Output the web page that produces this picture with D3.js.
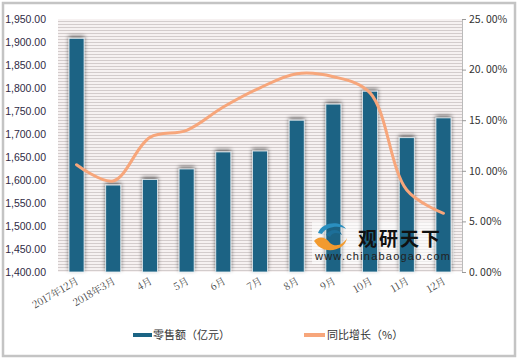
<!DOCTYPE html>
<html><head><meta charset="utf-8">
<script src="https://cdn.jsdelivr.net/npm/d3@7"></script>
<style>html,body{margin:0;padding:0;background:#fff;}svg{display:block;}</style>
</head><body>
<svg id="c" width="520" height="360"></svg>
<script>
const categories = ["2017年12月","2018年3月","4月","5月","6月","7月","8月","9月","10月","11月","12月"];
const sales = [1908, 1589, 1601, 1624, 1661, 1663, 1730, 1765, 1793, 1692, 1735];
const growth = [10.6, 9.0, 13.3, 14.0, 16.3, 18.2, 19.6, 19.3, 17.7, 8.1, 5.8];
const leftTicks = [1400,1450,1500,1550,1600,1650,1700,1750,1800,1850,1900,1950];
const rightTicks = [0,5,10,15,20,25];
const rightTickLabels = ["0. 00%","5. 00%","10. 00%","15. 00%","20. 00%","25. 00%"];
const legendLabels = ["零售额（亿元）","同比增长（%）"];

const svg = d3.select("#c");
const L = 58, R = 462, T = 19, B = 272;

const defs = svg.append("defs");
const pat = defs.append("pattern").attr("id","stripes").attr("patternUnits","userSpaceOnUse")
  .attr("width",6).attr("height",3);
pat.append("rect").attr("width",6).attr("height",3).attr("fill","#f6f1f1");
pat.append("rect").attr("y",0).attr("width",6).attr("height",1).attr("fill","#d3cccc");

const f = defs.append("filter").attr("id","shadow").attr("x","-50%").attr("y","-20%").attr("width","200%").attr("height","140%");
f.append("feGaussianBlur").attr("in","SourceAlpha").attr("stdDeviation",2).attr("result","b");
f.append("feOffset").attr("in","b").attr("dx",0).attr("dy",-2).attr("result","o");
f.append("feComponentTransfer").attr("in","o").attr("result","s")
  .append("feFuncA").attr("type","linear").attr("slope",0.55);
const m = f.append("feMerge");
m.append("feMergeNode").attr("in","s");
m.append("feMergeNode").attr("in","SourceGraphic");

// outer frame
svg.append("rect").attr("x",3).attr("y",3).attr("width",512).attr("height",353)
  .attr("fill","#fff").attr("stroke","#c4c4c4").attr("stroke-width",2.5);

// plot background
svg.append("rect").attr("x",L).attr("y",T).attr("width",R-L).attr("height",B-T).attr("fill","url(#stripes)");

const x = d3.scaleBand().domain(categories).range([L,R]).paddingInner(0.59).paddingOuter(0.3);
const yL = d3.scaleLinear().domain([1400,1950]).range([B,T]);
const yR = d3.scaleLinear().domain([0,25]).range([B,T]);

// watermark backdrop
svg.append("rect").attr("x",312).attr("y",222).attr("width",142).attr("height",42).attr("fill","#fff").attr("opacity",0.6);

// bars
svg.append("g").selectAll("rect").data(sales).join("rect")
  .attr("x",(d,i)=>x(categories[i])).attr("width",x.bandwidth())
  .attr("y",d=>yL(d)).attr("height",d=>yL(1400)-yL(d))
  .attr("fill","#1b6484").attr("stroke","#e8eef2").attr("stroke-width",0.8)
  .attr("filter","url(#shadow)");

// left axis
const gl = svg.append("g").attr("transform",`translate(${L},0)`)
  .call(d3.axisLeft(yL).tickValues(leftTicks).tickFormat(d3.format(",.2f")).tickSize(0).tickPadding(12));
gl.select(".domain").remove();
gl.selectAll("text").attr("font-family","Liberation Sans, Arial, sans-serif").attr("font-size",10.5).attr("fill","#2f2a45");

// right axis
const gr = svg.append("g").attr("transform",`translate(${R},0)`)
  .call(d3.axisRight(yR).tickValues(rightTicks).tickFormat((d,i)=>rightTickLabels[i]).tickSize(4).tickPadding(3));
gr.select(".domain").attr("stroke","#bbbbbb");
gr.selectAll("line").attr("stroke","#999");
gr.selectAll("text").attr("font-family","Noto Sans CJK SC, sans-serif").attr("font-size",10.5).attr("fill","#333");

// x labels
const gx = svg.append("g").attr("transform",`translate(0,${B})`)
  .call(d3.axisBottom(x).tickSize(0).tickPadding(0));
gx.select(".domain").remove();
gx.selectAll("text").attr("font-family","Noto Serif CJK SC, DejaVu Serif, serif").attr("font-size",10)
  .attr("fill","#444").attr("text-anchor","end").attr("dy",0)
  .attr("transform","translate(3,11) rotate(-30)");

// line
const line = d3.line().x((d,i)=>x(categories[i])+x.bandwidth()/2).y(d=>yR(d)).curve(d3.curveCatmullRom.alpha(0.5));
svg.append("path").datum(growth).attr("d",line).attr("fill","none")
  .attr("stroke","#f7a67b").attr("stroke-width",3).attr("stroke-linecap","round");

// watermark
const wm = svg.append("g");
wm.append("path").attr("d","M318,233 C322,222 340,220 346,229 C340,225 326,226 322,234 Z").attr("fill","#2a8fbf");
wm.append("path").attr("d","M326,235 C330,228 340,229 342,235 C338,232 332,232 330,237 Z").attr("fill","#1d6f99");
wm.append("path").attr("d","M314,241 C318,236 325,236 330,243 C336,248 344,244 347,238 C345,250 328,254 318,246 Z").attr("fill","#f29a2e");
wm.append("text").attr("x",358).attr("y",246).attr("font-family","Noto Sans CJK SC, sans-serif").attr("font-weight","bold")
  .attr("font-size",19).attr("fill","#111").attr("textLength",82).text("观研天下");
wm.append("text").attr("x",315).attr("y",260).attr("font-family","Liberation Sans, Arial, sans-serif")
  .attr("font-size",11).attr("fill","#222").attr("textLength",135).text("www.chinabaogao.com");

// legend
const lg = svg.append("g").attr("font-family","Noto Sans CJK SC, sans-serif").attr("font-size",11).attr("fill","#333");
lg.append("line").attr("x1",133).attr("x2",152).attr("y1",335).attr("y2",335).attr("stroke","#1b6484").attr("stroke-width",4);
lg.append("text").attr("x",153).attr("y",339).text(legendLabels[0]);
lg.append("line").attr("x1",304).attr("x2",325).attr("y1",335).attr("y2",335).attr("stroke","#f7a67b").attr("stroke-width",4);
lg.append("text").attr("x",327).attr("y",339).text(legendLabels[1]);
</script>
</body></html>
